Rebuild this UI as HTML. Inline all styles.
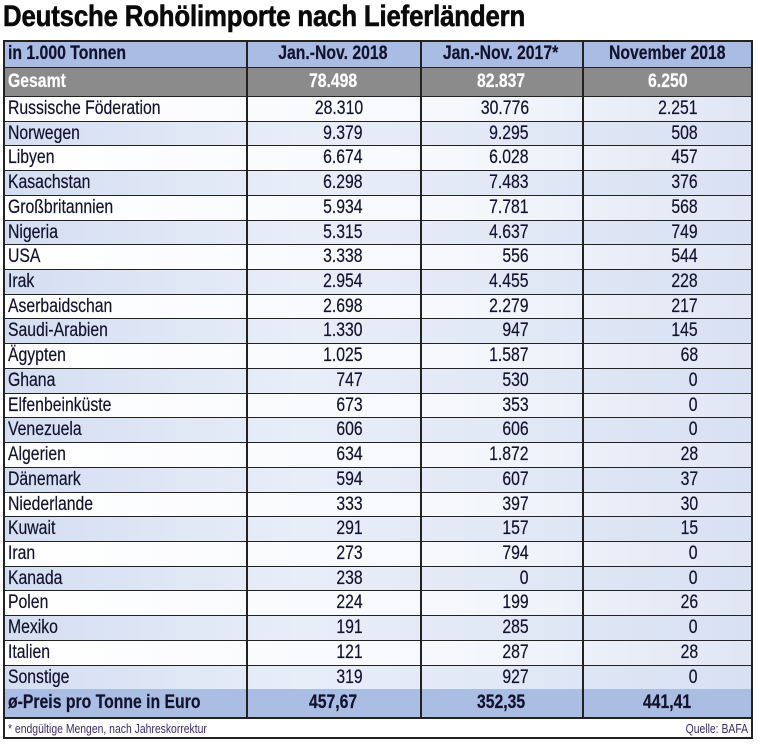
<!DOCTYPE html>
<html><head><meta charset="utf-8"><style>
body{margin:0;width:760px;height:745px;background:#fff;position:relative;overflow:hidden;font-family:"Liberation Sans",sans-serif;color:#12122e}
.t{position:absolute;left:3px;top:0px;font-size:30px;font-weight:bold;transform:scaleX(.86);transform-origin:left;white-space:nowrap;color:#0a0a0a;letter-spacing:-.2px;-webkit-text-stroke:.6px #0a0a0a}
.r{position:absolute;left:3px;width:750px;border-bottom:2px solid #222;box-sizing:border-box}
.c{position:absolute;top:0;bottom:0;white-space:nowrap;font-size:19px}
.c span{display:inline-block;transform:scaleX(.83);transform-origin:right;-webkit-text-stroke:.2px currentColor}
.l span{transform-origin:left}
.frame{position:absolute;left:3px;top:40px;width:750px;height:699px;border:2px solid #222;box-sizing:border-box}
.v{position:absolute;top:40px;width:2px;height:677px;background:#222}
</style></head><body>
<div class="t">Deutsche Rohölimporte nach Lieferländern</div>
<div id="rows"></div>
<div class="frame"></div>
<div class="v" style="left:246px"></div><div class="v" style="left:420px"></div><div class="v" style="left:582px"></div>
<script>
var d=[["Russische Föderation","28.310","30.776","2.251"],["Norwegen","9.379","9.295","508"],["Libyen","6.674","6.028","457"],["Kasachstan","6.298","7.483","376"],["Großbritannien","5.934","7.781","568"],["Nigeria","5.315","4.637","749"],["USA","3.338","556","544"],["Irak","2.954","4.455","228"],["Aserbaidschan","2.698","2.279","217"],["Saudi-Arabien","1.330","947","145"],["Ägypten","1.025","1.587","68"],["Ghana","747","530","0"],["Elfenbeinküste","673","353","0"],["Venezuela","606","606","0"],["Algerien","634","1.872","28"],["Dänemark","594","607","37"],["Niederlande","333","397","30"],["Kuwait","291","157","15"],["Iran","273","794","0"],["Kanada","238","0","0"],["Polen","224","199","26"],["Mexiko","191","285","0"],["Italien","121","287","28"],["Sonstige","319","927","0"]];
var h="";
function row(top,ht,bg,cells,opt){
 opt=opt||{};
 var s='<div class="r" style="top:'+top+'px;height:'+ht+'px;background:'+bg+'">';
 var lh=ht-2;
 var fw=opt.bold?'bold':'normal';var col=opt.color||'#12122e';
 s+='<div class="c l" style="left:5px;line-height:'+lh+'px;font-weight:'+fw+';color:'+col+'"><span>'+cells[0]+'</span></div>';
 if(opt.center){
  var cx=[[243,417],[417,579],[579,750]];
  for(var i=1;i<4;i++)s+='<div class="c" style="left:'+cx[i-1][0]+'px;width:'+(cx[i-1][1]-cx[i-1][0])+'px;text-align:center;line-height:'+lh+'px;font-weight:'+fw+';color:'+col+'"><span style="transform-origin:center">'+cells[i]+'</span></div>';
 } else {
  var rx=[360,526,695];
  for(var i=1;i<4;i++)s+='<div class="c" style="right:'+(750-rx[i-1])+'px;line-height:'+lh+'px;font-weight:'+fw+';color:'+col+'"><span>'+cells[i]+'</span></div>';
 }
 return s+'</div>';
}
h+=row(40,29,'#a9bde4',["in 1.000 Tonnen","Jan.-Nov. 2018","Jan.-Nov. 2017*","November 2018"],{bold:1,center:1});
h+=row(68,30,'#8b8b8b',["Gesamt","78.498","82.837","6.250"],{bold:1,center:1,color:'#fff'});
var y=97,rh=24.72;
for(var i=0;i<d.length;i++){
 var t=Math.round(y+i*rh),b=Math.round(y+(i+1)*rh)+1;
 var bg=i%2?'linear-gradient(90deg,#d4def2,#e8eef8 40%,#d8e1f3)':'linear-gradient(90deg,#fff,#f6f8fc 60%,#dfe6f4)';
 h+=row(t,b-t,bg,d[i]);
}
h+=row(689,30,'#aabde3',["ø-Preis pro Tonne in Euro","457,67","352,35","441,41"],{bold:1,center:1});
h+='<div style="position:absolute;left:8px;top:719px;font-size:13px;color:#3a2a6a;white-space:nowrap;transform:scaleX(.8);transform-origin:left;line-height:19px">* endgültige Mengen, nach Jahreskorrektur</div>';
h+='<div style="position:absolute;right:12px;top:719px;font-size:13px;color:#3a2a6a;white-space:nowrap;transform:scaleX(.8);transform-origin:right;line-height:19px">Quelle: BAFA</div>';
document.getElementById('rows').innerHTML=h;
</script>
</body></html>
